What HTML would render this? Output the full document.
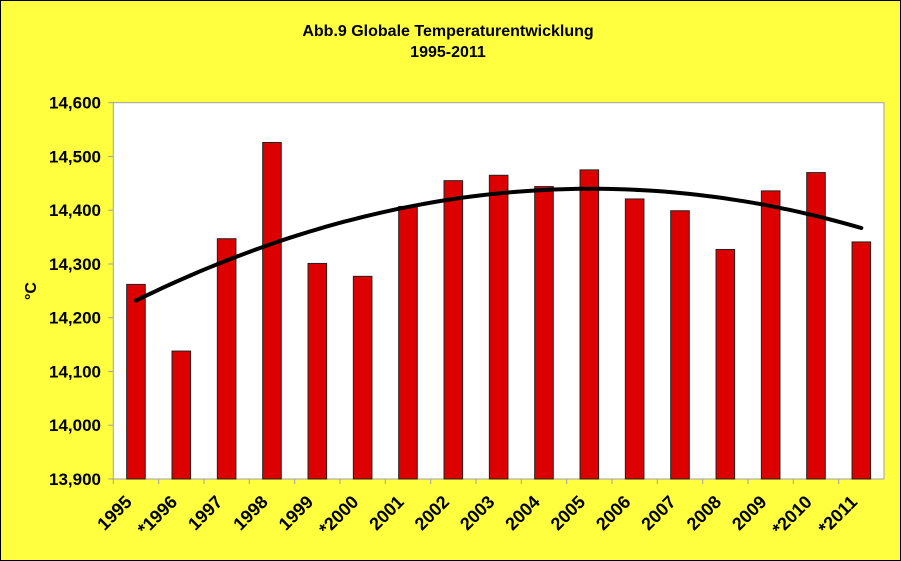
<!DOCTYPE html>
<html><head><meta charset="utf-8"><style>
html,body{margin:0;padding:0;background:#ffff40;}
svg{display:block;font-family:"Liberation Sans",Arial,sans-serif;font-weight:bold;}
</style></head><body>
<svg id="chart" width="901" height="561" viewBox="0 0 901 561">
<rect x="0.5" y="0.5" width="900" height="560" fill="#ffff40" stroke="#000"/>
<text x="448" y="36" text-anchor="middle" font-size="16">Abb.9 Globale Temperaturentwicklung</text>
<text x="448" y="57" text-anchor="middle" font-size="16">1995-2011</text>
<rect x="113.3" y="102.7" width="770.7" height="376.3" fill="#fff" stroke="#a0a0a0"/>
<text transform="translate(36,291) rotate(-90)" text-anchor="middle" font-size="16">°C</text>
<g id="yaxis"></g><g id="bars"></g><g id="xaxis"></g><g id="trend"></g>
</svg>
<script>
const categories=["1995","*1996","1997","1998","1999","*2000","2001","2002","2003","2004","2005","2006","2007","2008","2009","*2010","*2011"];
const values=[14.262,14.138,14.347,14.526,14.301,14.277,14.407,14.455,14.465,14.444,14.475,14.421,14.399,14.327,14.436,14.470,14.341];
const yTicks=[13.9,14.0,14.1,14.2,14.3,14.4,14.5,14.6];
const yTickLabels=["13,900","14,000","14,100","14,200","14,300","14,400","14,500","14,600"];
const NS="http://www.w3.org/2000/svg";
const L=113.3,R=884,T=102.7,B=479,ymin=13.9,ymax=14.6;
const bw=(R-L)/categories.length;
const y=v=>B-(v-ymin)/(ymax-ymin)*(B-T);
const x=i=>L+bw*(i+0.5);
function mk(tag,attrs,parent){const e=document.createElementNS(NS,tag);for(const k in attrs)e.setAttribute(k,attrs[k]);document.getElementById(parent).appendChild(e);return e;}
yTicks.forEach((t,i)=>{
 const tk=mk('line',{x1:L-5,x2:L,y1:y(t),y2:y(t),stroke:'#a0a0a0'},'yaxis');
 
 
 const tx=mk('text',{x:101,y:y(t)+6,'text-anchor':'end','font-size':17},'yaxis');
 tx.textContent=yTickLabels[i];
 
 
});
values.forEach((v,i)=>{
 const r=mk('rect',{x:x(i)-9.3,y:y(v),width:18.6,height:B-y(v),fill:'#dd0000',stroke:'#222','stroke-width':1},'bars');
 
 
 const tk=mk('line',{x1:L+bw*i,x2:L+bw*i,y1:B,y2:B+5,stroke:'#a0a0a0'},'xaxis');
 
 
 const tx=mk('text',{transform:`translate(${x(i)-3},${B+24}) rotate(-45)`,'text-anchor':'end','font-size':18},'xaxis');
 tx.textContent=categories[i];
 
 
});
(function(){
 const n=values.length;let S=[0,0,0,0,0],Sy=[0,0,0];
 for(let i=0;i<n;i++){const t=i+1;for(let k=0;k<5;k++)S[k]+=Math.pow(t,k);for(let k=0;k<3;k++)Sy[k]+=values[i]*Math.pow(t,k);}
 const A=[[S[0],S[1],S[2],Sy[0]],[S[1],S[2],S[3],Sy[1]],[S[2],S[3],S[4],Sy[2]]];
 for(let c=0;c<3;c++){for(let r=c+1;r<3;r++){const f=A[r][c]/A[c][c];for(let k=c;k<4;k++)A[r][k]-=f*A[c][k];}}
 const co=[0,0,0];for(let r=2;r>=0;r--){let s=A[r][3];for(let k=r+1;k<3;k++)s-=A[r][k]*co[k];co[r]=s/A[r][r];}
 let d='';for(let s=0;s<=80;s++){const t=1+(n-1)*s/80;const v=co[0]+co[1]*t+co[2]*t*t;d+=(s?'L':'M')+(x(t-1)).toFixed(1)+','+y(v).toFixed(1);}
 const p=mk('path',{d:d,fill:'none',stroke:'#000','stroke-width':4,'stroke-linecap':'round'},'trend');
 
 
})();
</script>
</body></html>
